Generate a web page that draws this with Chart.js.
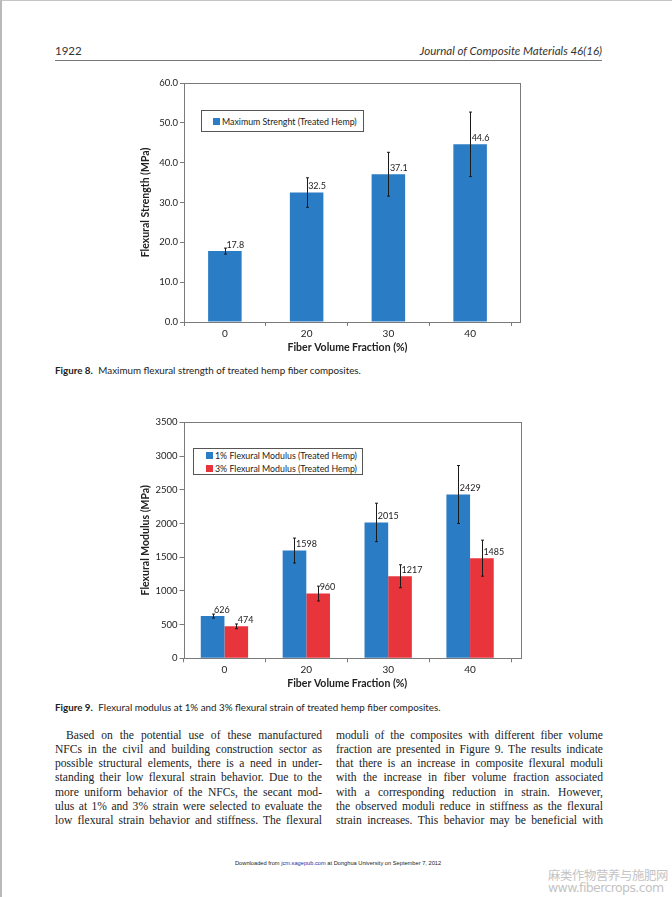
<!DOCTYPE html>
<html>
<head>
<meta charset="utf-8">
<script src="https://cdn.jsdelivr.net/npm/chart.js@4.4.0/dist/chart.umd.min.js"></script>
<style>
  html, body { margin: 0; padding: 0; background: #fff; }
  body { width: 672px; height: 897px; position: relative; overflow: hidden; }
  .page-edge { position: absolute; left: 0; top: 0; width: 672px; height: 897px; box-sizing: border-box;
    border-left: 2px solid #b9b9b9; border-top: 1px solid #c4c4c4; }
  .hdr { position: absolute; top: 44px; font-family: Lato, sans-serif; font-size: 11.5px; color: #333; }
  .rule { position: absolute; left: 55px; top: 60px; width: 547px; height: 1px; background: #777; }
  .cv { position: absolute; }
  .legend { position: absolute; background: #fff; border: 1px solid #555; box-sizing: border-box;
    font-family: Lato, sans-serif; font-size: 8.8px; color: #222; }
  .legend .row { position: absolute; white-space: nowrap; }
  .legend .sw { display: inline-block; width: 7px; height: 7px; margin-right: 2px; vertical-align: -0.5px; }
  .cap { position: absolute; left: 55px; font-family: Lato, sans-serif; font-size: 9.8px; color: #222; white-space: nowrap; }
  .cap b { margin-right: 3px; }
  .col { position: absolute; top: 729px; width: 267px; font-family: "Liberation Serif", serif; font-size: 11.6px; color: #222; }
  .col div { height: 14.17px; line-height: 14.17px; text-align: justify; text-align-last: justify; white-space: nowrap; }
  .foot { position: absolute; left: 235px; top: 860px; font-family: "Liberation Sans", Arial, sans-serif; font-size: 5.7px; color: #222; white-space: nowrap; }
  .foot span { color: #2a2aa8; }
  .wm { position: absolute; left: 548px; color: #c4c4c4; white-space: nowrap; }
</style>
</head>
<body>
<div class="page-edge"></div>
<div class="hdr" style="left:55px">1922</div>
<div class="hdr" style="right:70px;font-style:italic">Journal of Composite Materials 46(16)</div>
<div class="rule"></div>

<canvas id="c1" class="cv" width="400" height="290" style="left:130px;top:72px;width:400px;height:290px"></canvas>
<div id="lg1" class="legend" style="left:201px;top:110px;width:163px;height:22px"></div>
<div class="cap" style="top:364px"><b>Figure 8.</b> Maximum flexural strength of treated hemp fiber composites.</div>

<canvas id="c2" class="cv" width="400" height="290" style="left:130px;top:408px;width:400px;height:290px"></canvas>
<div id="lg2" class="legend" style="left:193px;top:448px;width:170px;height:27px"></div>
<div class="cap" style="top:701px"><b>Figure 9.</b> Flexural modulus at 1% and 3% flexural strain of treated hemp fiber composites.</div>

<div class="col" style="left:55px">
  <div style="padding-left:11px">Based on the potential use of these manufactured</div>
  <div>NFCs in the civil and building construction sector as</div>
  <div>possible structural elements, there is a need in under-</div>
  <div>standing their low flexural strain behavior. Due to the</div>
  <div>more uniform behavior of the NFCs, the secant mod-</div>
  <div>ulus at 1% and 3% strain were selected to evaluate the</div>
  <div>low flexural strain behavior and stiffness. The flexural</div>
</div>
<div class="col" style="left:336px">
  <div>moduli of the composites with different fiber volume</div>
  <div>fraction are presented in Figure 9. The results indicate</div>
  <div>that there is an increase in composite flexural moduli</div>
  <div>with the increase in fiber volume fraction associated</div>
  <div>with a corresponding reduction in strain. However,</div>
  <div>the observed moduli reduce in stiffness as the flexural</div>
  <div>strain increases. This behavior may be beneficial with</div>
</div>

<div class="foot">Downloaded from <span>jcm.sagepub.com</span> at Donghua University on September 7, 2012</div>
<div class="wm" style="top:866px;font-family:'Noto Sans CJK SC',sans-serif;font-size:12.3px;letter-spacing:-0.3px">麻类作物营养与施肥网</div>
<div class="wm" style="top:880px;font-family:'DejaVu Sans',sans-serif;font-size:12.5px;letter-spacing:-0.6px">www.fibercrops.com</div>

<script>
// Figure 8 data
const fractions = ['0', '20', '30', '40'];
const strength = [17.8, 32.5, 37.1, 44.6];
const strengthErr = [0.75, 3.7, 5.5, 8.1];
const strengthTicks = [0, 10, 20, 30, 40, 50, 60];

// Figure 9 data
const modulus1 = [626, 1598, 2015, 2429];
const modulus1Err = [30, 185, 285, 430];
const modulus3 = [474, 960, 1217, 1485];
const modulus3Err = [35, 110, 170, 267];
const modulusTicks = [0, 500, 1000, 1500, 2000, 2500, 3000, 3500];

const BLUE = '#2a7cc4';
const RED = '#e8343b';
const TXT = '#222';
const GRID = '#7a7a7a';

// frame round the plot area, a little wider on the right as in the original
const plotFrame = {
  id: 'plotFrame',
  afterDraw(chart, args, opts) {
    const a = chart.chartArea, ctx = chart.ctx;
    ctx.save();
    ctx.strokeStyle = GRID;
    ctx.lineWidth = 1;
    ctx.strokeRect(Math.round(a.left) + 0.5, Math.round(a.top) + 0.5,
      Math.round(a.right + (opts.extra || 0) - a.left), Math.round(a.bottom - a.top));
    ctx.restore();
  }
};

// error bars and value labels drawn from the bar elements
const barExtras = {
  id: 'barExtras',
  afterDatasetsDraw(chart, args, opts) {
    const ctx = chart.ctx, y = chart.scales.y;
    ctx.save();
    chart.data.datasets.forEach((ds, i) => {
      const meta = chart.getDatasetMeta(i);
      meta.data.forEach((bar, j) => {
        const v = ds.data[j], e = ds.errors[j];
        const x = Math.round(bar.x) + 0.5;
        const t = y.getPixelForValue(v + e), b = y.getPixelForValue(v - e);
        ctx.strokeStyle = '#1a1a1a';
        ctx.lineWidth = 1;
        ctx.beginPath();
        ctx.moveTo(x, t); ctx.lineTo(x, b);
        ctx.moveTo(x - 1.5, t); ctx.lineTo(x + 1.5, t);
        ctx.moveTo(x - 1.5, b); ctx.lineTo(x + 1.5, b);
        ctx.stroke();
        ctx.fillStyle = TXT;
        ctx.font = '9px Lato, sans-serif';
        ctx.textAlign = 'left';
        ctx.textBaseline = 'middle';
        ctx.fillText(v.toFixed(opts.digits), bar.x + 1.5, bar.y - 6);
      });
    });
    ctx.restore();
  }
};

function makeOptions(cfg) {
  return {
    responsive: false,
    animation: false,
    layout: { padding: { top: cfg.padTop, right: 19, left: 0, bottom: 0 } },
    plugins: {
      legend: { display: false },
      tooltip: { enabled: false },
      plotFrame: { extra: 9 },
      barExtras: { digits: cfg.digits }
    },
    scales: {
      x: {
        grid: { display: true, drawOnChartArea: false, offset: true, tickLength: 4, color: GRID },
        border: { display: false },
        ticks: { color: TXT, font: { family: 'Lato', size: 10 }, padding: cfg.xPad },
        title: { display: true, text: 'Fiber Volume Fraction (%)', color: TXT,
          font: { family: 'Lato', size: 10.5, weight: 'bold' }, padding: { top: 0, bottom: cfg.xTitlePad } },
        afterFit(s) { s.height = cfg.xHeight; }
      },
      y: {
        min: cfg.ticks[0],
        max: cfg.ticks[cfg.ticks.length - 1],
        grid: { display: true, drawOnChartArea: false, tickLength: 4, color: GRID },
        border: { display: false },
        afterBuildTicks(s) { s.ticks = cfg.ticks.map(v => ({ value: v })); },
        ticks: { color: TXT, font: { family: 'Lato', size: 9.5 }, padding: 2,
          callback: v => v.toFixed(cfg.tickDigits) },
        title: { display: true, text: cfg.yTitle, color: TXT,
          font: { family: 'Lato', size: 10.5, weight: 'bold' }, padding: { top: 9.5, bottom: 0 } },
        afterFit(s) { s.width = cfg.yWidth; }
      }
    }
  };
}

function buildLegend(el, chart, rows) {
  chart.data.datasets.forEach((ds, i) => {
    const r = document.createElement('div');
    r.className = 'row';
    r.style.left = rows.left + 'px';
    r.style.top = rows.tops[i] + 'px';
    const sw = document.createElement('span');
    sw.className = 'sw';
    sw.style.background = ds.backgroundColor;
    r.appendChild(sw);
    r.appendChild(document.createTextNode(ds.label));
    el.appendChild(r);
  });
}

const chart1 = new Chart(document.getElementById('c1'), {
  type: 'bar',
  data: {
    labels: fractions,
    datasets: [{
      label: 'Maximum Strenght (Treated Hemp)',
      data: strength,
      errors: strengthErr,
      backgroundColor: BLUE,
      categoryPercentage: 0.41,
      barPercentage: 1
    }]
  },
  options: makeOptions({ padTop: 11, xHeight: 40, yWidth: 54, xPad: 2, xTitlePad: 7.7,
    ticks: strengthTicks, tickDigits: 1, digits: 1, yTitle: 'Flexural Strength (MPa)' }),
  plugins: [plotFrame, barExtras]
});
buildLegend(document.getElementById('lg1'), chart1, { left: 11, tops: [4.5] });

const chart2 = new Chart(document.getElementById('c2'), {
  type: 'bar',
  data: {
    labels: fractions,
    datasets: [{
      label: '1% Flexural Modulus (Treated Hemp)',
      data: modulus1,
      errors: modulus1Err,
      backgroundColor: BLUE,
      categoryPercentage: 0.578,
      barPercentage: 1
    }, {
      label: '3% Flexural Modulus (Treated Hemp)',
      data: modulus3,
      errors: modulus3Err,
      backgroundColor: RED,
      categoryPercentage: 0.578,
      barPercentage: 1
    }]
  },
  options: makeOptions({ padTop: 14.3, xHeight: 39.7, yWidth: 53.5, xPad: 1, xTitlePad: 8.4,
    ticks: modulusTicks, tickDigits: 0, digits: 0, yTitle: 'Flexural Modulus (MPa)' }),
  plugins: [plotFrame, barExtras]
});
buildLegend(document.getElementById('lg2'), chart2, { left: 12, tops: [0.5, 13.5] });
</script>
</body>
</html>
